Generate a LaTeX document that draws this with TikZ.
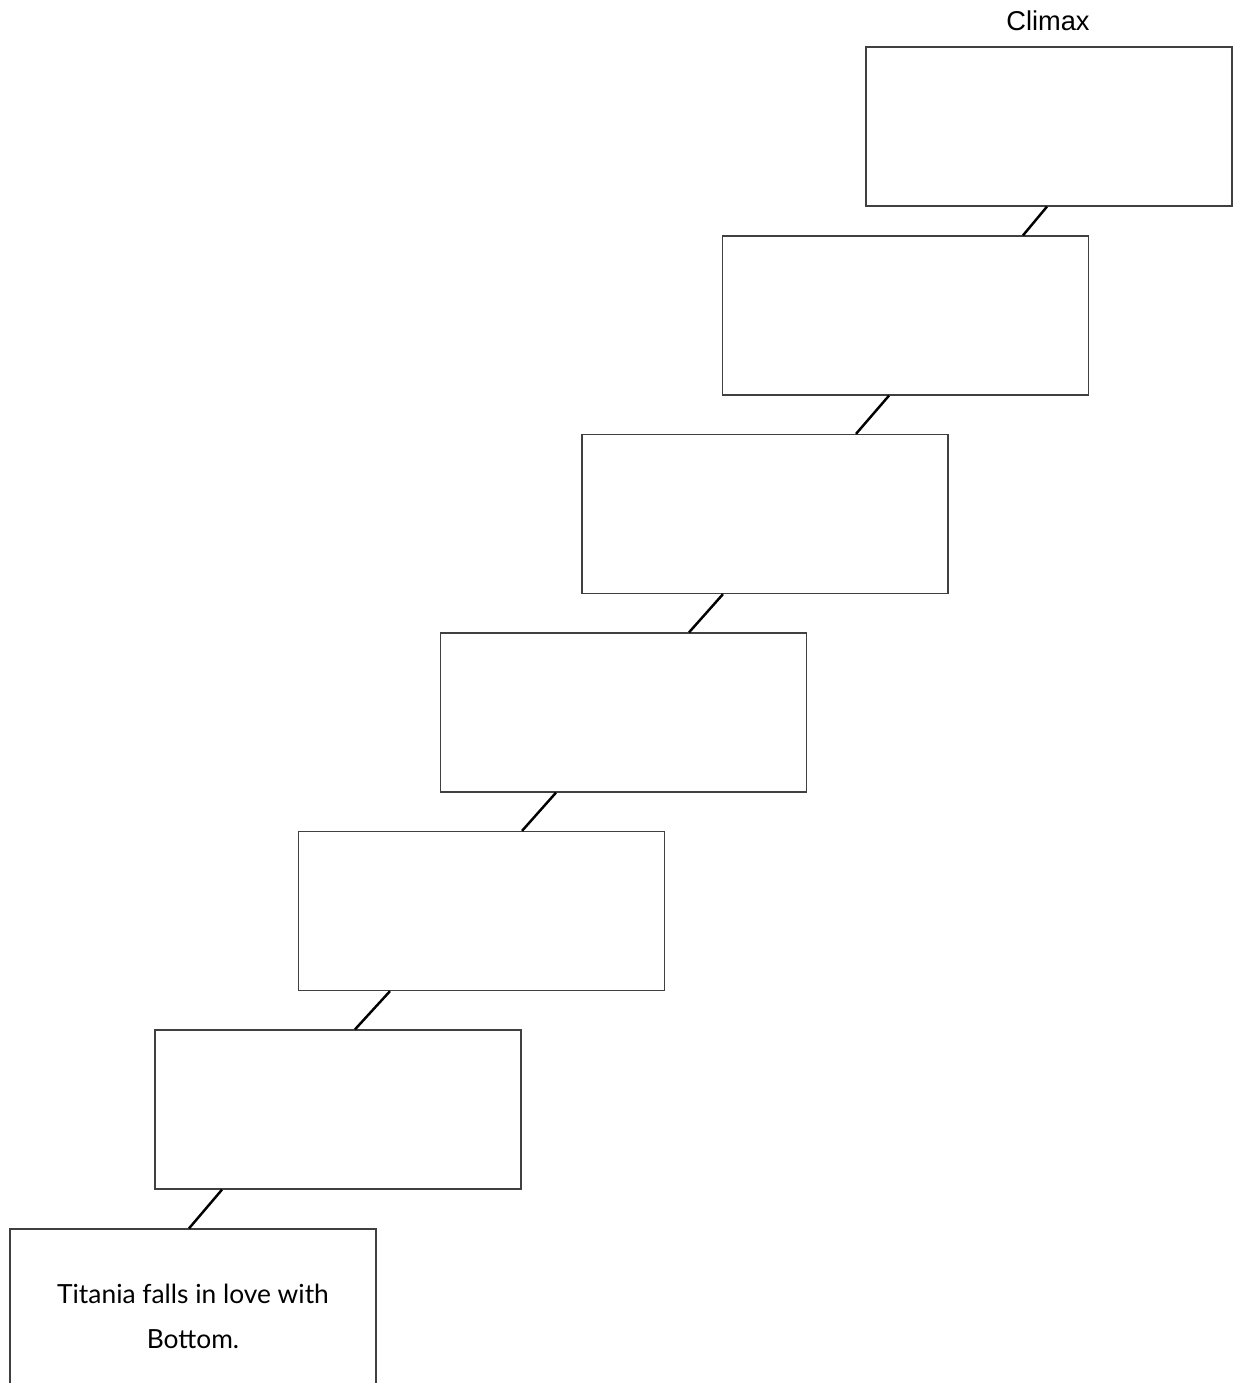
\documentclass[tikz,border=0pt]{standalone}
\usepackage{fontspec}
\setmainfont{Liberation Sans}
\newfontfamily\handfont{Lato}
\usetikzlibrary{positioning}

\begin{document}
\begin{tikzpicture}[x=0.02cm,y=-0.02cm,stagebox/.style={draw=black!75,line width=0.7pt,fill=white,minimum width=7.32cm,minimum height=3.18cm,inner sep=0pt},stagetext/.style={align=center,font=\handfont\fontsize{15}{25.5}\selectfont,yshift=-0.15cm},link/.style={line width=1.4pt,black},heading/.style={font=\fontsize{15.5}{18}\selectfont,anchor=base}]
\clip (0,0) rectangle (1239,1383);
\node[heading] (climax) at (1048,30) {Climax};
\node[stagebox] (stage7) at (1049,126.5) {};
\node[stagebox] (stage6) at (905.5,315.5) {};
\node[stagebox] (stage5) at (765,514) {};
\node[stagebox] (stage4) at (623.5,712.5) {};
\node[stagebox] (stage3) at (481.5,911) {};
\node[stagebox] (stage2) at (338,1109.5) {};
\node[stagebox, label={[stagetext]center:Titania falls in love with\\Bottom.}] (stage1) at (193,1308.5) {};
\draw[link] ([xshift=-0.08cm]stage1.north) -- ([xshift=-2.32cm]stage2.south);
\draw[link] ([xshift=0.34cm]stage2.north) -- ([xshift=-1.83cm]stage3.south);
\draw[link] ([xshift=0.81cm]stage3.north) -- ([xshift=-1.35cm]stage4.south);
\draw[link] ([xshift=1.31cm]stage4.north) -- ([xshift=-0.84cm]stage5.south);
\draw[link] ([xshift=1.82cm]stage5.north) -- ([xshift=-0.33cm]stage6.south);
\draw[link] ([xshift=2.35cm]stage6.north) -- ([xshift=-0.04cm]stage7.south);
\end{tikzpicture}
\end{document}
